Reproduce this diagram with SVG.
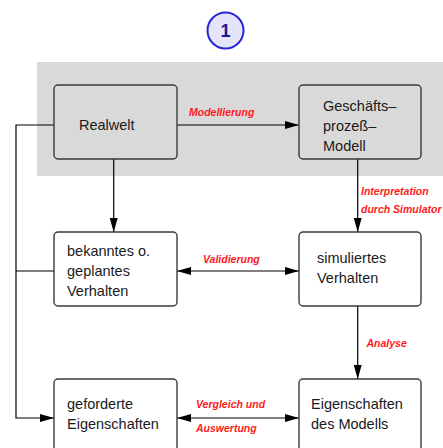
<svg xmlns="http://www.w3.org/2000/svg" width="443" height="448" viewBox="0 0 443 448">
  <style>
    .box { fill: #ffffff; stroke: #3a3a3a; stroke-width: 1.4; }
    .gbox { fill: #d9d9d9; stroke: #3a3a3a; stroke-width: 1.4; }
    .t { font-family: "Liberation Sans", Arial, sans-serif; font-size: 14.5px; fill: #1a1a1a; }
    .lbl { font-family: "Liberation Sans", Arial, sans-serif; font-size: 10.5px; font-weight: bold; font-style: italic; fill: #ff1a1a; }
    .ln { fill: none; stroke: #000; stroke-width: 1.2; }
  </style>
  <defs>
    <marker id="ah" viewBox="0 0 14 8" refX="14" refY="4" markerWidth="14" markerHeight="8" markerUnits="userSpaceOnUse" orient="auto-start-reverse">
      <path d="M0,0 L14,4 L0,8 Z" fill="#000"/>
    </marker>
  </defs>

  <!-- step badge -->
  <g id="badge">
    <circle cx="225.5" cy="30.5" r="18" fill="#e4e4fa" stroke="#2626d6" stroke-width="2"/>
    <text x="225.5" y="37" text-anchor="middle" font-family="Liberation Sans, Arial, sans-serif" font-size="18" font-weight="bold" fill="#1c1c8c">1</text>
  </g>

  <!-- shaded modelling area -->
  <rect id="band" x="37" y="62" width="406" height="114" fill="#d9d9d9"/>

  <!-- connectors -->
  <g id="connectors">
    <path class="ln" d="M177,125 H299" marker-end="url(#ah)"/>
    <path class="ln" d="M113.7,159 V232" marker-end="url(#ah)"/>
    <path class="ln" d="M357.7,159 V232" marker-end="url(#ah)"/>
    <path class="ln" d="M177,271 H299" marker-start="url(#ah)" marker-end="url(#ah)"/>
    <path class="ln" d="M357.7,306 V379" marker-end="url(#ah)"/>
    <path class="ln" d="M177,418 H299" marker-start="url(#ah)" marker-end="url(#ah)"/>
    <path class="ln" d="M54,125 H16 V418 H54" marker-end="url(#ah)"/>
    <path class="ln" d="M16,271 H54"/>
    <text class="lbl" x="189" y="115.5">Modellierung</text>
    <text class="lbl" x="361" y="195">Interpretation</text>
    <text class="lbl" x="361" y="213">durch Simulator</text>
    <text class="lbl" x="203" y="262.5">Validierung</text>
    <text class="lbl" x="366.5" y="347">Analyse</text>
    <text class="lbl" x="196" y="408">Vergleich und</text>
    <text class="lbl" x="196" y="432">Auswertung</text>
  </g>

  <g id="realwelt">
    <rect class="gbox" x="54" y="85" width="123" height="74" rx="4"/>
    <text class="t" x="79" y="130">Realwelt</text>
  </g>

  <g id="modell">
    <rect class="gbox" x="299" y="85" width="122" height="74" rx="4"/>
    <text class="t" x="323" y="110.5">Geschäfts–</text>
    <text class="t" x="323" y="130.5">prozeß–</text>
    <text class="t" x="323" y="150.5">Modell</text>
  </g>

  <g id="bekannt">
    <rect class="box" x="54" y="232" width="123" height="74" rx="4"/>
    <text class="t" x="67" y="256">bekanntes o.</text>
    <text class="t" x="67" y="276">geplantes</text>
    <text class="t" x="67" y="296">Verhalten</text>
  </g>

  <g id="simuliert">
    <rect class="box" x="299" y="232" width="122" height="74" rx="4"/>
    <text class="t" x="317" y="262.5">simuliertes</text>
    <text class="t" x="317" y="282.5">Verhalten</text>
  </g>

  <g id="gefordert">
    <rect class="box" x="54" y="379" width="123" height="90" rx="4"/>
    <text class="t" x="67" y="408.5">geforderte</text>
    <text class="t" x="67" y="428.5">Eigenschaften</text>
  </g>

  <g id="eigenschaften">
    <rect class="box" x="299" y="379" width="122" height="90" rx="4"/>
    <text class="t" x="311" y="408.5">Eigenschaften</text>
    <text class="t" x="311" y="428.5">des Modells</text>
  </g>
</svg>
